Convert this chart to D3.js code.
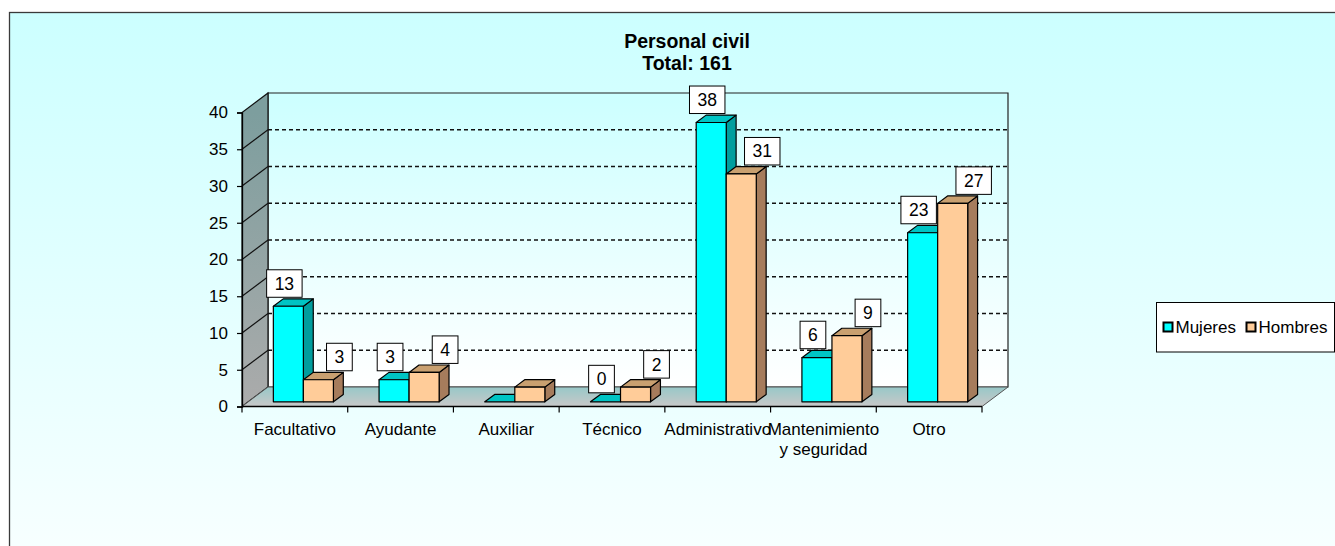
<!DOCTYPE html>
<html>
<head>
<meta charset="utf-8">
<script src="https://cdn.jsdelivr.net/npm/d3@7/dist/d3.min.js"></script>
<style>
  html, body { margin: 0; padding: 0; background: #fff; }
  svg { display: block; }
  text { font-family: "Liberation Sans", Arial, sans-serif; fill: #000; }
</style>
</head>
<body>
<svg id="chart" width="1335" height="546"></svg>
<script>
// Personal civil by category, women / men
const categories = ["Facultativo", "Ayudante", "Auxiliar", "Técnico", "Administrativo", "Mantenimiento\ny seguridad", "Otro"];
const series = ["Mujeres", "Hombres"];
const mujeres = [13, 3, 0, 0, 38, 6, 23];
const hombres = [3, 4, 2, 2, 31, 9, 27];
const yTicks = [0, 5, 10, 15, 20, 25, 30, 35, 40];
const unlabelled = ["Auxiliar"];
const titleLines = ["Personal civil", "Total: 161"];

const W = 1335, H = 546;
const svg = d3.select("#chart");
const defs = svg.append("defs");

function vGrad(id, stops, y1, y2) {
  const g = defs.append("linearGradient").attr("id", id)
    .attr("gradientUnits", "userSpaceOnUse")
    .attr("x1", 0).attr("x2", 0).attr("y1", y1).attr("y2", y2);
  stops.forEach(([o, c]) => g.append("stop").attr("offset", o).attr("stop-color", c));
}

// plot geometry
const front = { left: 242, right: 982, bottom: 406.5, top: 112.5 };
const depth = { dx: 26, dy: -19.5 };
const barDepth = [0.24, 0.62];

const x = d3.scaleBand().domain(categories).range([front.left, front.right]).padding(0);
const inner = d3.scaleBand().domain(series).range([0, x.bandwidth()])
  .paddingInner(0).paddingOuter(0.76).align(0.55);
const y = d3.scaleLinear().domain([0, 40]).range([front.bottom, front.top]);

const P = (px, v, f) => [px + f * depth.dx, y(v) + f * depth.dy];
const pts = arr => arr.map(p => p.join(",")).join(" ");

vGrad("bgGrad", [[0, "#ccffff"], [1, "#f7ffff"]], 12, 546);
vGrad("wallGrad", [[0, "#ccffff"], [1, "#ffffff"]], y(40) + depth.dy, y(0) + depth.dy);
vGrad("sideGrad", [[0, "#7d9e9e"], [1, "#ababab"]], y(40), y(0));
vGrad("floorGrad", [[0, "#98c8c8"], [1, "#c8c8c8"]], y(0) + depth.dy, y(0));

// chart area
svg.append("rect").attr("x", 9.5).attr("y", 12.5).attr("width", 1400).attr("height", 600)
  .attr("fill", "url(#bgGrad)").attr("stroke", "#3a3a3a").attr("stroke-width", 1.3);

// title
svg.append("g").selectAll("text").data(titleLines).join("text")
  .attr("x", 687).attr("y", (d, i) => 48 + i * 22)
  .attr("text-anchor", "middle").attr("font-weight", "bold").attr("font-size", 19.5)
  .text(d => d);

const walls = svg.append("g");
// back wall
walls.append("polygon")
  .attr("points", pts([P(front.left, 0, 1), P(front.left, 40, 1), P(front.right, 40, 1), P(front.right, 0, 1)]))
  .attr("fill", "url(#wallGrad)").attr("stroke", "#222").attr("stroke-width", 1.2);
// left side wall
walls.append("polygon")
  .attr("points", pts([P(front.left, 0, 0), P(front.left, 40, 0), P(front.left, 40, 1), P(front.left, 0, 1)]))
  .attr("fill", "url(#sideGrad)").attr("stroke", "#111").attr("stroke-width", 1.2);
// floor
walls.append("polygon")
  .attr("points", pts([P(front.left, 0, 0), P(front.right, 0, 0), P(front.right, 0, 1), P(front.left, 0, 1)]))
  .attr("fill", "url(#floorGrad)").attr("stroke", "#555").attr("stroke-width", 1);

// gridlines
const gridVals = yTicks.filter(v => v > 0 && v < 40);
walls.append("g").selectAll("line.back").data(gridVals).join("line")
  .attr("x1", d => P(front.left, d, 1)[0]).attr("y1", d => P(front.left, d, 1)[1])
  .attr("x2", d => P(front.right, d, 1)[0]).attr("y2", d => P(front.right, d, 1)[1])
  .attr("stroke", "#111").attr("stroke-width", 1.4).attr("stroke-dasharray", "4,3");
walls.append("g").selectAll("line.side").data(gridVals).join("line")
  .attr("x1", d => P(front.left, d, 0)[0]).attr("y1", d => P(front.left, d, 0)[1])
  .attr("x2", d => P(front.left, d, 1)[0]).attr("y2", d => P(front.left, d, 1)[1])
  .attr("stroke", "#111").attr("stroke-width", 1.2);

// y axis
const yAxis = svg.append("g").attr("transform", `translate(${front.left},0)`)
  .call(d3.axisLeft(y).tickValues(yTicks).tickSize(5).tickPadding(9).tickFormat(d3.format("d")));
yAxis.select(".domain").attr("stroke", "#000").attr("stroke-width", 1.3);
yAxis.selectAll(".tick line").attr("stroke", "#000").attr("stroke-width", 1.2);
yAxis.selectAll(".tick text").attr("font-size", 17).attr("font-family", "Liberation Sans, Arial, sans-serif");

// x axis (front edge of floor), ticks on category boundaries
const xAxis = svg.append("g").attr("transform", `translate(0,${front.bottom})`);
xAxis.append("line").attr("x1", front.left).attr("x2", front.right)
  .attr("stroke", "#000").attr("stroke-width", 1.3);
const bounds = categories.map(c => x(c)).concat([front.right]);
xAxis.selectAll("line.tk").data(bounds).join("line").attr("class", "tk")
  .attr("x1", d => d).attr("x2", d => d).attr("y1", 0).attr("y2", 6)
  .attr("stroke", "#000").attr("stroke-width", 1.2);
const catText = xAxis.selectAll("text.cat").data(categories).join("text").attr("class", "cat")
  .attr("text-anchor", "middle").attr("font-size", 17)
  .attr("transform", d => `translate(${x(d) + x.bandwidth() / 2},28)`);
catText.selectAll("tspan").data(d => d.split("\n")).join("tspan")
  .attr("x", 0).attr("dy", (d, i) => i === 0 ? 0 : 20).text(d => d);

// bars
const colors = {
  Mujeres: { front: "#00ffff", top: "#00c4c4", side: "#009e9e" },
  Hombres: { front: "#ffcc99", top: "#c9a070", side: "#a67c5c" }
};
const rows = [];
categories.forEach((c, i) => {
  rows.push({ cat: c, s: "Mujeres", v: mujeres[i] });
  rows.push({ cat: c, s: "Hombres", v: hombres[i] });
});
const [f0, f1] = barDepth;
const bars = svg.append("g");
rows.forEach(d => {
  const xl = x(d.cat) + inner(d.s), xr = xl + inner.bandwidth();
  const col = colors[d.s];
  const g = bars.append("g").attr("stroke", "#000").attr("stroke-width", 1.2).attr("stroke-linejoin", "round");
  if (d.v > 0) {
    g.append("polygon").attr("fill", col.side)
      .attr("points", pts([P(xr, d.v, f0), P(xr, 0, f0), P(xr, 0, f1), P(xr, d.v, f1)]));
  }
  g.append("polygon").attr("fill", col.top)
    .attr("points", pts([P(xl, d.v, f0), P(xr, d.v, f0), P(xr, d.v, f1), P(xl, d.v, f1)]));
  if (d.v > 0) {
    g.append("polygon").attr("fill", col.front)
      .attr("points", pts([P(xl, d.v, f0), P(xr, d.v, f0), P(xr, 0, f0), P(xl, 0, f0)]));
  }
});

// value labels
const labelShift = { Mujeres: -4, Hombres: 21 };
const labels = svg.append("g");
rows.filter(d => !unlabelled.includes(d.cat)).forEach(d => {
  const xl = x(d.cat) + inner(d.s);
  const [fx, fy] = P(xl + inner.bandwidth() / 2, d.v, f0);
  const cx = fx + labelShift[d.s];
  const bottom = fy - 9;
  const g = labels.append("g");
  const rect = g.append("rect").attr("fill", "#fff").attr("stroke", "#000").attr("stroke-width", 1);
  const t = g.append("text").attr("x", cx).attr("y", bottom - 7.5)
    .attr("text-anchor", "middle").attr("font-size", 17.5).text(d3.format("d")(d.v));
  const w = t.node().getComputedTextLength() + 16;
  rect.attr("x", cx - w / 2).attr("y", bottom - 27.5).attr("width", w).attr("height", 27.5);
});

// legend
const legend = svg.append("g").attr("transform", "translate(1156.5,302.5)");
legend.append("rect").attr("width", 178).attr("height", 49.5)
  .attr("fill", "#fff").attr("stroke", "#000").attr("stroke-width", 1);
const legendX = { Mujeres: 7, Hombres: 90 };
series.forEach(s => {
  const g = legend.append("g").attr("transform", `translate(${legendX[s]},0)`);
  g.append("rect").attr("x", 0).attr("y", 20).attr("width", 9).attr("height", 9)
    .attr("fill", colors[s].front).attr("stroke", "#000").attr("stroke-width", 2);
  g.append("text").attr("x", 12).attr("y", 30.5).attr("font-size", 17).text(s);
});
</script>
</body>
</html>
